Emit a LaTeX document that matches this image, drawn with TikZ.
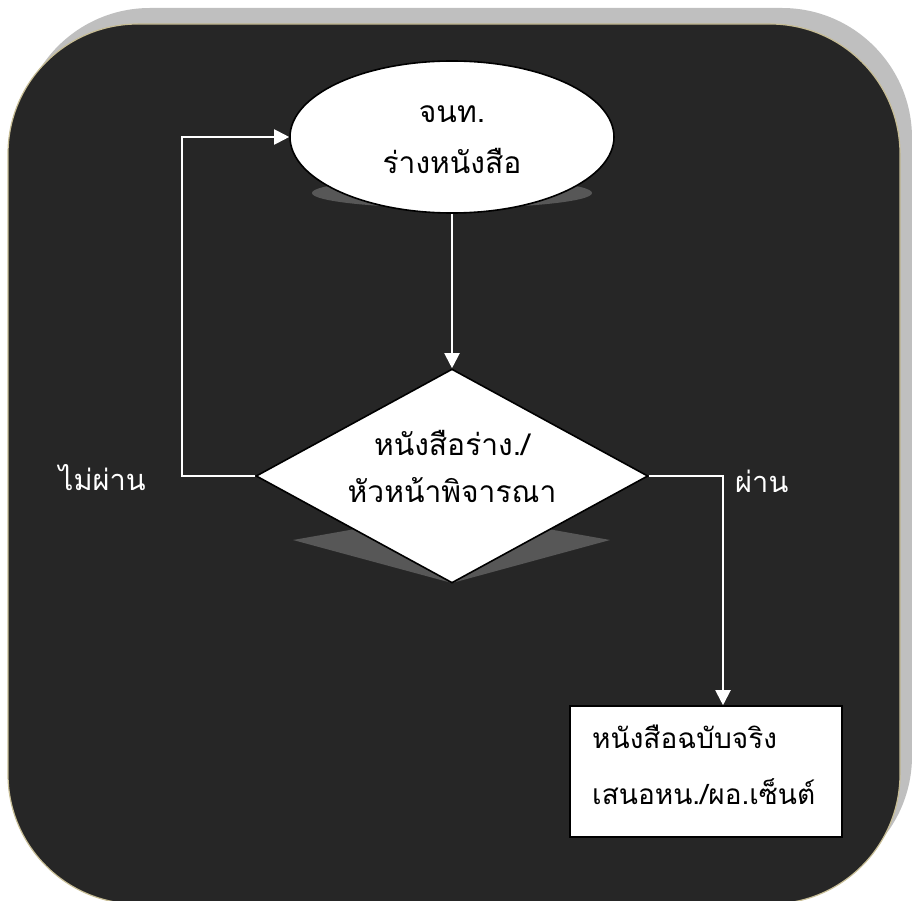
\documentclass[tikz,border=0pt]{standalone}
\usepackage{fontspec}
\newfontfamily\thaifont[Script=Thai]{Loma}
\usetikzlibrary{shapes.geometric,arrows.meta}
\definecolor{panel}{HTML}{262626}
\definecolor{panelshadow}{HTML}{BFBFBF}
\definecolor{panelrim}{HTML}{C8BE96}
\definecolor{nodeshadow}{HTML}{575757}
\tikzset{
  txt/.style={font=\thaifont\fontsize{30}{32}\selectfont, text=black, inner sep=0pt},
  boxtxt/.style={font=\thaifont\fontsize{28}{32}\selectfont, text=black, inner sep=0pt},
  lbl/.style={font=\thaifont\fontsize{29}{32}\selectfont, text=white, inner sep=0pt},
  conn/.style={draw=white, line width=2pt, -{Triangle[width=15pt,length=15pt]}},
  shapeframe/.style={draw=black, fill=white, line width=1.6pt, inner sep=0pt},
}
\begin{document}
\begin{tikzpicture}[x=1pt,y=-1pt]
\useasboundingbox (0,0) rectangle (912,901);
% panel with shadow
\fill[panelshadow, rounded corners=130pt] (20,8) rectangle (912,886);
\fill[panel, draw=panelrim, line width=1.2pt, rounded corners=130pt] (8,24) rectangle (900,904);
% node shadows
\fill[nodeshadow] (452,193) ellipse [x radius=140pt, y radius=15pt];
\fill[nodeshadow] (452,512) -- (610,540) -- (452,583) -- (293,540) -- cycle;
% nodes
\node[shapeframe, ellipse, minimum width=324pt, minimum height=152pt] (start) at (452,137) {};
\node[txt, anchor=base] (t1) at (452,123) {จนท.};
\node[txt, anchor=base] (t2) at (452,174) {ร่างหนังสือ};
\node[shapeframe, diamond, minimum width=392pt, minimum height=214pt] (dec) at (452,476) {};
\node[txt, anchor=base] (d1) at (452,455) {หนังสือร่าง./};
\node[txt, anchor=base] (d2) at (452,502) {หัวหน้าพิจารณา};
\node[shapeframe, rectangle, minimum width=272pt, minimum height=131pt] (box) at (706,771.5) {};
\node[boxtxt, anchor=base west] (b1) at (592,748) {หนังสือฉบับจริง};
\node[boxtxt, anchor=base west] (b2) at (592,804) {เสนอหน./ผอ.เซ็นต์};
% labels
\node[lbl, anchor=base east] (no) at (146,490) {ไม่ผ่าน};
\node[lbl, anchor=base west] (yes) at (735,492) {ผ่าน};
% connectors
\coordinate (lp) at (182,476);
\coordinate (rp) at (723,476);
\draw[conn] (start.south) -- (dec.north);
\draw[conn] (dec.west) -- (lp) |- (start.west);
\draw[conn] (dec.east) -- (rp) -- (rp |- box.north);
\end{tikzpicture}
\end{document}
